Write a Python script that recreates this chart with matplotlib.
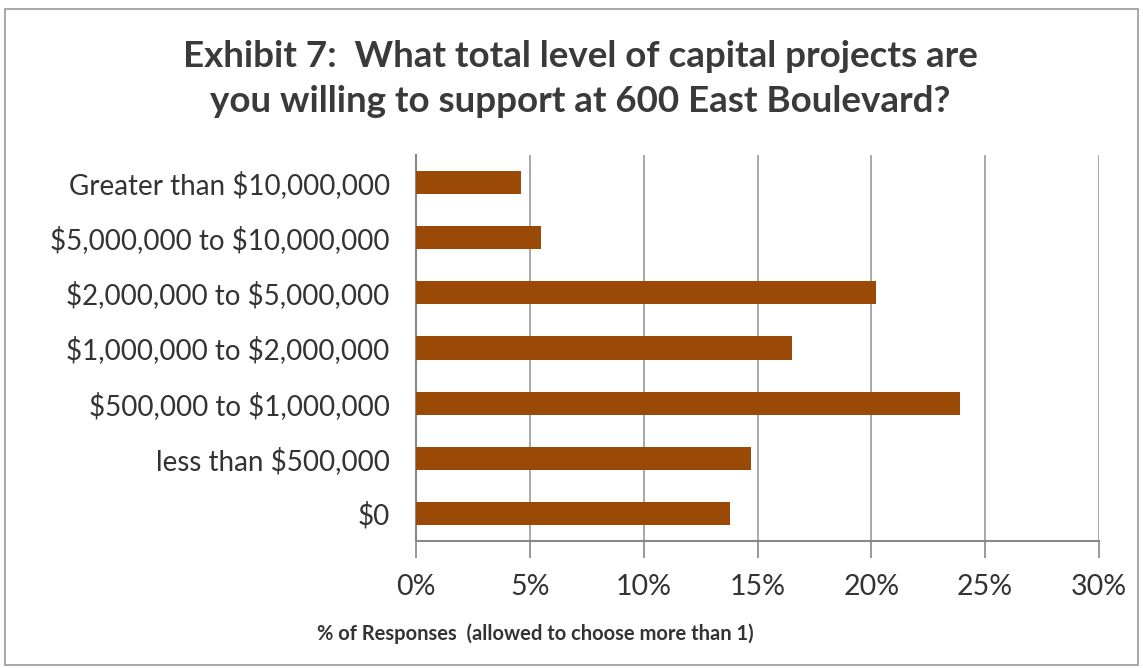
import matplotlib.pyplot as plt
from matplotlib.patches import Rectangle

categories = ["$0", "less than $500,000", "$500,000 to $1,000,000",
              "$1,000,000 to $2,000,000", "$2,000,000 to $5,000,000",
              "$5,000,000 to $10,000,000", "Greater than $10,000,000"]
values = [13.8, 14.7, 23.9, 16.5, 20.2, 5.5, 4.6]
x_ticks = [0, 5, 10, 15, 20, 25, 30]
x_labels = ["0%", "5%", "10%", "15%", "20%", "25%", "30%"]

plt.rcParams['font.family'] = ['Lato', 'DejaVu Sans']
plt.rcParams['text.parse_math'] = False

fig = plt.figure(figsize=(11.43, 6.68), dpi=100)
ax = fig.add_axes([0.364, 0.19, 0.5975, 0.578])

ax.barh(range(len(categories)), values, height=0.42, color='#9A4A06', zorder=3)

ax.set_xlim(0, 30)
ax.set_ylim(-0.5, len(categories) - 0.5)
ax.set_xticks(x_ticks)
ax.set_xticklabels(x_labels, fontsize=20.5, color='#333333')
ax.set_yticks(range(len(categories)))
ax.set_yticklabels(categories, fontsize=20, color='#333333', va='center_baseline')
ax.tick_params(axis='y', length=0, pad=19)
ax.tick_params(axis='x', length=12, width=1.2, color='#888888', pad=12)

ax.grid(axis='x', color='#999999', linewidth=1.2, zorder=0)
for side in ['top', 'right']:
    ax.spines[side].set_visible(False)
ax.spines['left'].set_color('#888888')
ax.spines['left'].set_linewidth(1.5)
ax.spines['bottom'].set_color('#888888')
ax.spines['bottom'].set_linewidth(1.5)

ax.set_xlabel("% of Responses  (allowed to choose more than 1)",
              fontsize=14.5, fontweight='bold', color='#333333')
ax.xaxis.set_label_coords(0.174, -0.212)

fig.text(0.508, 0.882, "Exhibit 7:  What total level of capital projects are\n"
         "you willing to support at 600 East Boulevard?",
         ha='center', va='center', fontsize=26.5, fontweight='bold',
         color='#3a3a3a', linespacing=1.45)

fig.patches.append(Rectangle((0.004, 0.004), 0.992, 0.982, transform=fig.transFigure,
                             fill=False, edgecolor='#999999', linewidth=1.2))

fig.savefig("out.png", dpi=100)
